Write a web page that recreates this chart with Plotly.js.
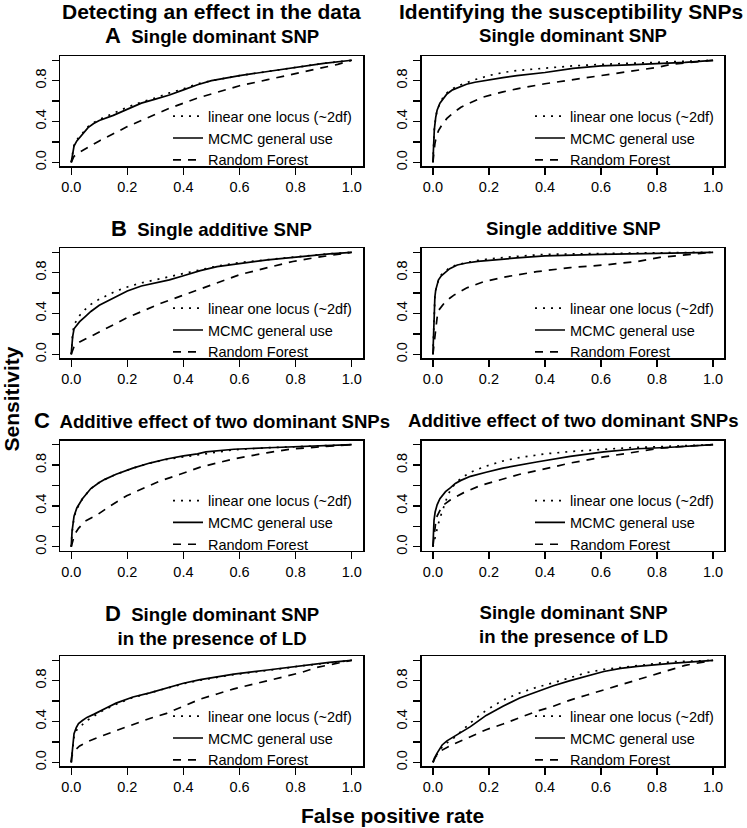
<!DOCTYPE html>
<html>
<head>
<meta charset="utf-8">
<script src="https://cdn.plot.ly/plotly-3.0.1.min.js"></script>
<style>html,body{margin:0;padding:0;background:#fff;}#chart{width:747px;height:828px;}</style>
</head>
<body>
<div id="chart"></div>
<script>
// ---------- data (false positive rate, sensitivity) ----------
const seriesNames = ["linear one locus (~2df)", "MCMC general use", "Random Forest"];
const columnHeaders = ["Detecting an effect in the data", "Identifying the susceptibility SNPs"];
const panelLetters = ["A", "B", "C", "D"];
const panelTitles = ["Single dominant SNP", "Single additive SNP", "Additive effect of two dominant SNPs", "Single dominant SNP<br>in the presence of LD"];
const xTickVals = [0, 0.2, 0.4, 0.6, 0.8, 1.0];
const xTickText = ["0.0", "0.2", "0.4", "0.6", "0.8", "1.0"];
const yTickVals = [0, 0.2, 0.4, 0.6, 0.8, 1.0];
const yTickText = ["0.0", "", "0.4", "", "0.8", ""];

// Panel A, left
const aL_lin_x = [0,0.005,0.01,0.02,0.04,0.06,0.08,0.1,0.15,0.2,0.25,0.3,0.35,0.4,0.45,0.5,0.6,0.7,0.8,0.9,1];
const aL_lin_y = [0,0.1,0.17,0.22,0.29,0.35,0.39,0.42,0.48,0.54,0.59,0.63,0.68,0.72,0.77,0.80,0.85,0.89,0.93,0.97,1];
const aL_mcmc_x = [0,0.005,0.01,0.02,0.04,0.06,0.08,0.1,0.15,0.2,0.25,0.3,0.35,0.4,0.45,0.5,0.6,0.7,0.8,0.9,1];
const aL_mcmc_y = [0,0.09,0.16,0.21,0.28,0.34,0.38,0.41,0.46,0.52,0.58,0.62,0.66,0.71,0.76,0.80,0.85,0.89,0.93,0.97,1];
const aL_rf_x = [0,0.01,0.03,0.06,0.1,0.15,0.2,0.25,0.3,0.35,0.4,0.45,0.5,0.6,0.7,0.8,0.9,0.95,1];
const aL_rf_y = [0,0.06,0.10,0.15,0.21,0.28,0.35,0.41,0.47,0.53,0.58,0.63,0.67,0.75,0.81,0.87,0.93,0.96,1];
// Panel A, right
const aR_lin_x = [0,0.002,0.005,0.01,0.015,0.025,0.035,0.05,0.07,0.09,0.12,0.15,0.2,0.25,0.3,0.4,0.5,0.6,0.7,0.8,0.9,1];
const aR_lin_y = [0,0.18,0.32,0.44,0.51,0.58,0.63,0.68,0.72,0.75,0.78,0.81,0.85,0.88,0.9,0.925,0.945,0.96,0.97,0.98,0.99,1];
const aR_mcmc_x = [0,0.002,0.005,0.01,0.015,0.025,0.035,0.05,0.07,0.09,0.12,0.15,0.2,0.25,0.3,0.4,0.5,0.6,0.7,0.8,0.9,1];
const aR_mcmc_y = [0,0.18,0.32,0.44,0.51,0.58,0.62,0.67,0.71,0.735,0.765,0.785,0.81,0.83,0.85,0.88,0.92,0.945,0.955,0.965,0.98,1];
const aR_rf_x = [0,0.003,0.007,0.012,0.02,0.035,0.05,0.07,0.1,0.13,0.18,0.25,0.3,0.4,0.5,0.6,0.7,0.8,0.85,0.9,1];
const aR_rf_y = [0,0.1,0.18,0.25,0.31,0.38,0.43,0.48,0.54,0.58,0.64,0.69,0.72,0.77,0.81,0.85,0.89,0.93,0.96,0.975,1];
// Panel B, left
const bL_lin_x = [0,0.002,0.005,0.01,0.02,0.03,0.05,0.07,0.1,0.13,0.16,0.2,0.25,0.3,0.35,0.4,0.46,0.52,0.6,0.7,0.82,0.92,1];
const bL_lin_y = [0,0.09,0.2,0.29,0.34,0.38,0.44,0.49,0.54,0.58,0.62,0.66,0.70,0.73,0.76,0.79,0.83,0.865,0.9,0.93,0.96,0.985,1];
const bL_mcmc_x = [0,0.002,0.005,0.01,0.02,0.03,0.05,0.07,0.1,0.13,0.16,0.2,0.25,0.3,0.35,0.4,0.46,0.52,0.6,0.7,0.82,0.92,1];
const bL_mcmc_y = [0,0.08,0.17,0.25,0.29,0.32,0.37,0.42,0.48,0.52,0.56,0.62,0.67,0.70,0.73,0.77,0.82,0.86,0.89,0.925,0.957,0.985,1];
const bL_rf_x = [0,0.01,0.03,0.08,0.14,0.2,0.26,0.32,0.39,0.46,0.53,0.6,0.7,0.79,0.875,0.95,1];
const bL_rf_y = [0,0.075,0.12,0.19,0.28,0.36,0.43,0.50,0.57,0.64,0.71,0.78,0.85,0.91,0.95,0.98,1];
// Panel B, right
const bR_lin_x = [0,0.002,0.004,0.007,0.01,0.015,0.02,0.03,0.045,0.06,0.087,0.12,0.16,0.2,0.25,0.3,0.4,0.5,0.6,0.8,1];
const bR_lin_y = [0,0.25,0.43,0.56,0.63,0.69,0.73,0.78,0.82,0.85,0.88,0.9,0.92,0.935,0.95,0.96,0.98,0.985,0.99,0.995,1];
const bR_mcmc_x = [0,0.002,0.004,0.007,0.01,0.015,0.02,0.03,0.045,0.06,0.087,0.12,0.16,0.2,0.25,0.3,0.4,0.5,0.6,0.8,1];
const bR_mcmc_y = [0,0.25,0.43,0.56,0.63,0.69,0.73,0.77,0.81,0.84,0.875,0.895,0.91,0.92,0.935,0.945,0.965,0.975,0.98,0.99,1];
const bR_rf_x = [0,0.002,0.004,0.007,0.01,0.015,0.02,0.03,0.04,0.06,0.075,0.1,0.12,0.18,0.25,0.37,0.49,0.61,0.73,0.81,0.9,1];
const bR_rf_y = [0,0.05,0.11,0.2,0.27,0.36,0.43,0.47,0.50,0.55,0.58,0.62,0.65,0.71,0.755,0.81,0.85,0.875,0.91,0.95,0.975,1];
// Panel C, left
const cL_lin_x = [0,0.003,0.01,0.02,0.04,0.07,0.1,0.12,0.16,0.22,0.28,0.34,0.4,0.45,0.48,0.58,0.7,0.85,1];
const cL_lin_y = [0,0.14,0.29,0.37,0.47,0.57,0.63,0.66,0.71,0.77,0.82,0.855,0.88,0.9,0.915,0.95,0.97,0.985,1];
const cL_mcmc_x = [0,0.003,0.01,0.02,0.04,0.07,0.1,0.12,0.16,0.22,0.28,0.34,0.4,0.45,0.48,0.58,0.7,0.85,1];
const cL_mcmc_y = [0,0.15,0.3,0.38,0.47,0.57,0.63,0.66,0.71,0.77,0.82,0.86,0.89,0.91,0.93,0.955,0.97,0.985,1];
const cL_rf_x = [0,0.005,0.012,0.026,0.05,0.091,0.139,0.198,0.246,0.317,0.388,0.46,0.578,0.697,0.792,0.875,1];
const cL_rf_y = [0,0.05,0.12,0.18,0.25,0.31,0.40,0.50,0.56,0.645,0.71,0.78,0.86,0.92,0.96,0.975,1];
// Panel C, right
const cR_lin_x = [0,0.005,0.01,0.02,0.03,0.04,0.05,0.063,0.08,0.1,0.134,0.19,0.25,0.3,0.4,0.5,0.6,0.7,0.8,0.9,1];
const cR_lin_y = [0,0.06,0.13,0.23,0.32,0.4,0.48,0.56,0.62,0.67,0.73,0.79,0.84,0.87,0.91,0.935,0.955,0.97,0.98,0.99,1];
const cR_mcmc_x = [0,0.002,0.004,0.008,0.015,0.025,0.033,0.045,0.063,0.08,0.1,0.134,0.19,0.25,0.37,0.49,0.61,0.73,0.85,1];
const cR_mcmc_y = [0,0.14,0.26,0.34,0.41,0.47,0.5,0.54,0.58,0.62,0.65,0.69,0.73,0.77,0.83,0.885,0.93,0.96,0.975,1];
const cR_rf_x = [0,0.004,0.01,0.015,0.025,0.033,0.063,0.11,0.17,0.23,0.31,0.395,0.49,0.61,0.73,0.81,0.9,1];
const cR_rf_y = [0,0.13,0.24,0.3,0.36,0.4,0.46,0.53,0.6,0.645,0.71,0.76,0.82,0.88,0.93,0.965,0.985,1];
// Panel D, left
const dL_lin_x = [0,0.003,0.006,0.01,0.018,0.026,0.04,0.056,0.08,0.1,0.13,0.16,0.22,0.28,0.34,0.4,0.46,0.58,0.7,0.82,0.92,1];
const dL_lin_y = [0,0.09,0.17,0.25,0.31,0.34,0.37,0.41,0.45,0.49,0.53,0.57,0.635,0.68,0.72,0.77,0.805,0.86,0.9,0.945,0.975,1];
const dL_mcmc_x = [0,0.003,0.006,0.01,0.018,0.026,0.04,0.056,0.08,0.1,0.13,0.16,0.22,0.28,0.34,0.4,0.46,0.58,0.7,0.82,0.92,1];
const dL_mcmc_y = [0,0.1,0.19,0.28,0.34,0.38,0.41,0.44,0.47,0.5,0.54,0.58,0.64,0.68,0.725,0.775,0.81,0.865,0.905,0.948,0.98,1];
const dL_rf_x = [0,0.002,0.006,0.014,0.03,0.056,0.1,0.16,0.22,0.28,0.34,0.4,0.46,0.52,0.58,0.7,0.82,0.875,0.95,1];
const dL_rf_y = [0,0.055,0.09,0.12,0.16,0.2,0.25,0.31,0.366,0.43,0.48,0.55,0.62,0.67,0.72,0.8,0.88,0.93,0.97,1];
// Panel D, right
const dR_lin_x = [0,0.005,0.015,0.03,0.05,0.075,0.1,0.146,0.19,0.25,0.31,0.37,0.43,0.49,0.55,0.61,0.73,0.85,1];
const dR_lin_y = [0,0.03,0.08,0.14,0.19,0.24,0.3,0.415,0.51,0.61,0.68,0.735,0.78,0.83,0.88,0.91,0.95,0.985,1];
const dR_mcmc_x = [0,0.005,0.015,0.033,0.05,0.075,0.1,0.134,0.19,0.25,0.31,0.37,0.43,0.49,0.55,0.61,0.67,0.73,0.85,1];
const dR_mcmc_y = [0,0.04,0.09,0.17,0.21,0.25,0.29,0.35,0.46,0.55,0.63,0.69,0.75,0.80,0.845,0.89,0.92,0.94,0.97,1];
const dR_rf_x = [0,0.01,0.033,0.075,0.134,0.19,0.25,0.31,0.37,0.43,0.49,0.55,0.61,0.67,0.73,0.79,0.85,0.9,1];
const dR_rf_y = [0,0.055,0.12,0.18,0.25,0.32,0.375,0.44,0.5,0.55,0.61,0.66,0.71,0.76,0.81,0.86,0.905,0.95,1];

const panelData = [
  [[aL_lin_x, aL_lin_y], [aL_mcmc_x, aL_mcmc_y], [aL_rf_x, aL_rf_y]],
  [[aR_lin_x, aR_lin_y], [aR_mcmc_x, aR_mcmc_y], [aR_rf_x, aR_rf_y]],
  [[bL_lin_x, bL_lin_y], [bL_mcmc_x, bL_mcmc_y], [bL_rf_x, bL_rf_y]],
  [[bR_lin_x, bR_lin_y], [bR_mcmc_x, bR_mcmc_y], [bR_rf_x, bR_rf_y]],
  [[cL_lin_x, cL_lin_y], [cL_mcmc_x, cL_mcmc_y], [cL_rf_x, cL_rf_y]],
  [[cR_lin_x, cR_lin_y], [cR_mcmc_x, cR_mcmc_y], [cR_rf_x, cR_rf_y]],
  [[dL_lin_x, dL_lin_y], [dL_mcmc_x, dL_mcmc_y], [dL_rf_x, dL_rf_y]],
  [[dR_lin_x, dR_lin_y], [dR_mcmc_x, dR_mcmc_y], [dR_rf_x, dR_rf_y]]
];

// ---------- layout geometry ----------
const W = 747, H = 828;
const FONT = "Liberation Sans, Arial, Helvetica, sans-serif";
const colPx = [[60, 363], [421.7, 724.3]];
const rowPx = [[56.2, 166.4], [248.2, 358.4], [440.6, 550.8], [656.2, 766.4]];
const dashes = ["2px,6px", "solid", "8px,7px"];

const traces = [];
const layout = {
  width: W, height: H,
  margin: {l: 0, r: 0, t: 0, b: 0},
  paper_bgcolor: "#ffffff", plot_bgcolor: "#ffffff",
  font: {family: FONT, color: "#000000"},
  annotations: []
};

for (let p = 0; p < 8; p++) {
  const row = Math.floor(p / 2), col = p % 2;
  const suf = p === 0 ? "" : String(p + 1);
  const xId = "x" + suf, yId = "y" + suf;
  const legId = "legend" + suf;
  panelData[p].forEach((s, k) => {
    traces.push({
      type: "scatter", mode: "lines",
      x: s[0], y: s[1],
      xaxis: xId, yaxis: yId,
      name: seriesNames[k],
      legend: legId,
      showlegend: true,
      line: {color: "#000000", width: 1.7, dash: dashes[k], shape: "linear"},
      hoverinfo: "skip"
    });
  });
  const common = {
    range: [-0.04, 1.04], showline: true, mirror: true, linecolor: "#000000", linewidth: 1.5,
    ticks: "outside", ticklen: 7, tickwidth: 1.3, tickcolor: "#000000",
    showgrid: false, zeroline: false, fixedrange: true,
    tickfont: {family: FONT, size: 14.5, color: "#000000"}
  };
  layout["xaxis" + suf] = Object.assign({}, common, {
    domain: [colPx[col][0] / W, colPx[col][1] / W], anchor: yId,
    tickmode: "array", tickvals: xTickVals, ticktext: xTickText
  });
  layout["yaxis" + suf] = Object.assign({}, common, {
    domain: [1 - rowPx[row][1] / H, 1 - rowPx[row][0] / H], anchor: xId,
    tickmode: "array", tickvals: yTickVals, ticktext: yTickText, tickangle: -90
  });
  layout[legId] = {
    x: (col === 0 ? 168 : 530) / W, xanchor: "left",
    y: 1 - (rowPx[row][0] + 44) / H, yanchor: "top",
    bgcolor: "rgba(0,0,0,0)", borderwidth: 0,
    font: {family: FONT, size: 14.5, color: "#000000"},
    itemwidth: 30, tracegroupgap: 0, traceorder: "normal"
  };
}

// column headers
const headerX = [212 / W, 571 / W];
columnHeaders.forEach((t, c) => {
  layout.annotations.push({
    text: "<b>" + t + "</b>", x: headerX[c], y: 1 - 12 / H, xref: "paper", yref: "paper",
    xanchor: "center", yanchor: "middle", showarrow: false,
    font: {family: FONT, size: 21, color: "#000000"}
  });
});

// panel titles
const titleY = [36, 228, 420, 624.5];
for (let r = 0; r < 4; r++) {
  for (let c = 0; c < 2; c++) {
    const cx = (colPx[c][0] + colPx[c][1]) / 2 / W;
    const parts = panelTitles[r].split("<br>");
    let first = "<b>" + parts[0] + "</b>";
    if (c === 0) {
      first = "<b><span style=\"font-size:22px\">" + panelLetters[r] + "</span>\u00a0 " + parts[0] + "</b>";
    }
    let txt = first;
    for (let i = 1; i < parts.length; i++) txt += "<br><b>" + parts[i] + "</b>";
    layout.annotations.push({
      text: txt, x: cx, y: 1 - titleY[r] / H, xref: "paper", yref: "paper",
      xanchor: "center", yanchor: "middle", showarrow: false, align: "center",
      font: {family: FONT, size: 18.6, color: "#000000"}
    });
  }
}

// shared axis titles
layout.annotations.push({
  text: "<b>Sensitivity</b>", x: 11 / W, y: 1 - 399.5 / H, xref: "paper", yref: "paper",
  xanchor: "center", yanchor: "middle", showarrow: false, textangle: -90,
  font: {family: FONT, size: 21, color: "#000000"}
});
layout.annotations.push({
  text: "<b>False positive rate</b>", x: 392.5 / W, y: 1 - 815 / H, xref: "paper", yref: "paper",
  xanchor: "center", yanchor: "middle", showarrow: false,
  font: {family: FONT, size: 21, color: "#000000"}
});

Plotly.newPlot("chart", traces, layout, {displayModeBar: false, staticPlot: true});
</script>
</body>
</html>
